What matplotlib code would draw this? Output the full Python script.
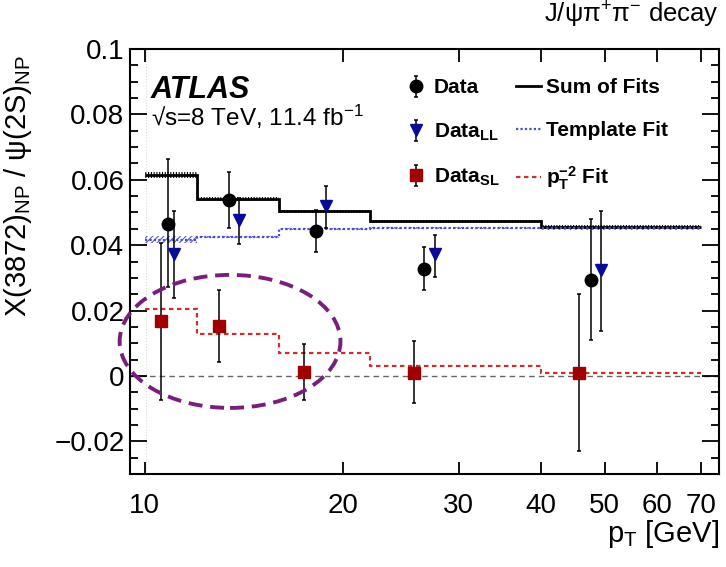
import numpy as np
import matplotlib
matplotlib.use("Agg")
import matplotlib.pyplot as plt
from matplotlib.patches import Ellipse
from matplotlib.lines import Line2D
from matplotlib.ticker import FixedLocator, FixedFormatter, MultipleLocator, NullLocator

plt.rcParams['font.family'] = ['Liberation Sans', 'DejaVu Sans']
plt.rcParams['mathtext.fontset'] = 'custom'
plt.rcParams['mathtext.rm'] = 'Liberation Sans'
plt.rcParams['mathtext.it'] = 'Liberation Sans:italic'
plt.rcParams['mathtext.bf'] = 'Liberation Sans:bold'
plt.rcParams['hatch.linewidth'] = 0.8

# pT bin edges [GeV] and fitted fractions per bin
bin_edges = [10, 12, 16, 22, 40, 70]
sum_fit = [0.0615, 0.0541, 0.0504, 0.0473, 0.0455]
sum_fit_err = [0.0010, 0.0006, 0.0005, 0.0005, 0.0007]
template_fit = [0.0417, 0.0425, 0.0448, 0.0452, 0.0452]
template_fit_err = [0.0010, 0.0004, 0.0003, 0.0003, 0.0006]
pt2_fit = [0.0205, 0.0127, 0.0069, 0.0030, 0.0008]

# measured points: pT, value, upper and lower error bar ends
data_pt = [10.85, 13.45, 18.2, 26.6, 47.6]
data_val = [0.0466, 0.0539, 0.0443, 0.0326, 0.0293]
data_hi = [0.0664, 0.0623, 0.0506, 0.0395, 0.0481]
data_lo = [0.0273, 0.0451, 0.0378, 0.0262, 0.0110]

ll_pt = [11.09, 13.93, 18.87, 27.6, 49.4]
ll_val = [0.0374, 0.0476, 0.0519, 0.0374, 0.0324]
ll_hi = [0.0504, 0.0545, 0.0580, 0.0430, 0.0503]
ll_lo = [0.0237, 0.0403, 0.0452, 0.0303, 0.0137]

sl_pt = [10.6, 12.98, 17.47, 25.7, 45.7]
sl_val = [0.0167, 0.0152, 0.0013, 0.0010, 0.0008]
sl_hi = [0.0407, 0.0262, 0.0099, 0.0107, 0.0250]
sl_lo = [-0.0073, 0.0044, -0.0073, -0.0083, -0.0230]

x_ticks = [10, 20, 30, 40, 50, 60, 70]
y_ticks = [-0.02, 0, 0.02, 0.04, 0.06, 0.08, 0.1]
y_labels = ["\u22120.02", "0", "0.02", "0.04", "0.06", "0.08", "0.1"]

fig = plt.figure(figsize=(7.26, 5.67), dpi=100)
ax = fig.add_axes([0.179, 0.164, 0.811, 0.7496])

ax.axhline(0, color='0.4', lw=1.0, ls=(0, (4, 3)), zorder=1)
ax.axvline(10.05, color='0.85', lw=0.8, ls=':', zorder=1)

# fit curves with their hatched uncertainty bands
def band(vals, errs, **kw):
    v = np.asarray(vals)
    e = np.asarray(errs)
    ax.stairs(v + e, bin_edges, baseline=v - e, fill=True, facecolor='none', lw=0, **kw)

band(template_fit, template_fit_err, hatch='//////', edgecolor='#5a5ad8', zorder=2)
band(sum_fit, sum_fit_err, hatch='||||||', edgecolor='black', zorder=2)

ax.stairs(sum_fit, bin_edges, baseline=None, color='black', lw=2.0, zorder=3)
ax.stairs(template_fit, bin_edges, baseline=None, color='#4b4bd0', lw=1.6,
          ls=(0, (1, 1)), zorder=3)
ax.stairs(pt2_fit, bin_edges, baseline=None, color='#c83232', lw=1.6,
          ls=(0, (2, 1.6)), zorder=3)

def points(x, y, hi, lo, **kw):
    y = np.asarray(y)
    yerr = [y - np.asarray(lo), np.asarray(hi) - y]
    return ax.errorbar(x, y, yerr=yerr, ls='none', ecolor='black', elinewidth=1.1,
                       capsize=1.5, capthick=1.1, zorder=5, **kw)

h_data = points(data_pt, data_val, data_hi, data_lo, marker='o', ms=9,
                mfc='black', mec='black')
h_ll = points(ll_pt, ll_val, ll_hi, ll_lo, marker='v', ms=9,
              mfc='#0a0a9a', mec='#0a0a9a')
h_sl = points(sl_pt, sl_val, sl_hi, sl_lo, marker='s', ms=8,
              mfc='#a00000', mec='#a00000')

ax.set_xscale('log')
ax.set_xlim(9.5, 74.5)
ax.set_ylim(-0.03, 0.1)

ax.xaxis.set_major_locator(FixedLocator(x_ticks))
ax.xaxis.set_major_formatter(FixedFormatter([str(t) for t in x_ticks]))
ax.xaxis.set_minor_locator(NullLocator())
ax.yaxis.set_major_locator(FixedLocator(y_ticks))
ax.yaxis.set_major_formatter(FixedFormatter(y_labels))
ax.yaxis.set_minor_locator(MultipleLocator(0.005))

ax.tick_params(which='both', direction='in', top=True, right=True, labelsize=20,
               width=1.3)
ax.tick_params(axis='y', which='major', length=12, pad=4)
ax.tick_params(axis='y', which='minor', length=6)
ax.tick_params(axis='x', which='major', length=9, pad=14)
for s in ax.spines.values():
    s.set_linewidth(1.5)

ax.set_xlabel(r'p$_{\rm T}$ [GeV]', fontsize=21, loc='right', labelpad=-1)
ax.set_ylabel(r'X(3872)$_{\rm NP}$ / ψ(2S)$_{\rm NP}$', fontsize=21, loc='top')
ax.yaxis.set_label_coords(-0.163, 0.985)

ax.text(0.035, 0.903, 'ATLAS', transform=ax.transAxes, fontsize=22,
        fontweight='bold', fontstyle='italic', va='center')
ax.text(0.035, 0.84, r'√s=8 TeV, 11.4 fb$^{-1}$', transform=ax.transAxes,
        fontsize=17.5, va='center')
fig.text(0.99, 0.973, r'J/ψπ$^{+}$π$^{-}$ decay', fontsize=18.5, ha='right', va='center')

handles = [h_data, h_ll, h_sl,
           Line2D([], [], color='black', lw=2.0),
           Line2D([], [], color='#4b4bd0', lw=1.6, ls=(0, (1, 1))),
           Line2D([], [], color='#c83232', lw=1.6, ls=(0, (2, 1.6)))]
labels = ['Data', r'Data$_{\mathbf{LL}}$', r'Data$_{\mathbf{SL}}$',
          'Sum of Fits', 'Template Fit', r'$\mathbf{p_{T}^{-2}}$ Fit']
ax.legend(handles, labels, ncol=2, loc='upper left', bbox_to_anchor=(0.44, 0.965),
          frameon=False, prop={'weight': 'bold', 'size': 15}, handlelength=1.2,
          handletextpad=0.25, columnspacing=0.78, labelspacing=1.15, borderpad=0.2)

ell = Ellipse((0.170, 0.312), 0.375, 0.313, transform=ax.transAxes, fill=False,
              edgecolor='#7a1e7e', lw=2.8, ls=(0, (3.6, 2.0)), zorder=6, clip_on=False)
ax.add_patch(ell)

fig.savefig('out.png', dpi=100)
